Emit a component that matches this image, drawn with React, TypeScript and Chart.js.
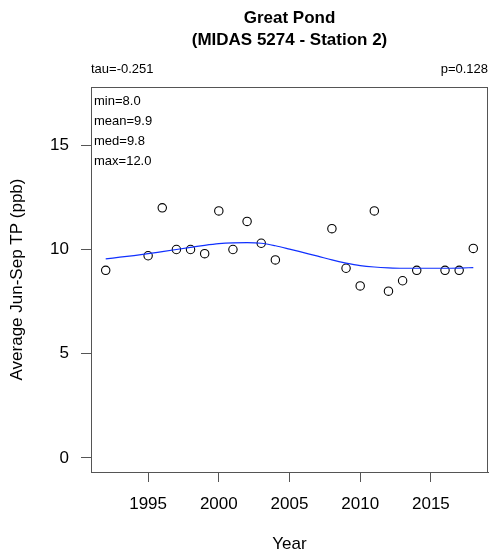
import React, { useEffect, useRef } from "react";
import { Chart, registerables } from "chart.js";

Chart.register(...registerables);

const years = [1992, 1995, 1996, 1997, 1998, 1999, 2000, 2001, 2002, 2003, 2004, 2008, 2009, 2010, 2011, 2012, 2013, 2014, 2016, 2017, 2018];
const tpValues = [9.0, 9.7, 12.0, 10.0, 10.0, 9.8, 11.85, 10.0, 11.35, 10.3, 9.5, 11.0, 9.1, 8.25, 11.85, 8.0, 8.5, 9.0, 9.0, 9.0, 10.05];

const fitYears = [1992, 1993, 1994, 1995, 1996, 1997, 1998, 1999, 2000, 2001, 2002, 2003, 2004, 2005, 2006, 2007, 2008, 2009, 2010, 2011, 2012, 2013, 2014, 2015, 2016, 2017, 2018];
const fitValues = [9.55, 9.63, 9.71, 9.8, 9.9, 10.0, 10.1, 10.2, 10.28, 10.32, 10.33, 10.3, 10.18, 10.02, 9.85, 9.68, 9.5, 9.35, 9.23, 9.16, 9.12, 9.1, 9.1, 9.1, 9.1, 9.11, 9.13];

const xTicks = [1995, 2000, 2005, 2010, 2015];
const yTicks = [0, 5, 10, 15];

const titleLines = ["Great Pond", "(MIDAS 5274 - Station 2)"];
const tauText = "tau=-0.251";
const pText = "p=0.128";
const statLines = ["min=8.0", "mean=9.9", "med=9.8", "max=12.0"];

const FONT = "'Liberation Sans', Arial, Helvetica, sans-serif";

export default function App() {
  const ref = useRef<HTMLCanvasElement | null>(null);

  useEffect(() => {
    if (!ref.current) return;
    Chart.defaults.font.family = FONT;

    const textPlugin = {
      id: "texts",
      afterDraw(chart: any) {
        const { ctx, chartArea } = chart;
        const { left, right, top, bottom } = chartArea;
        ctx.save();
        ctx.strokeStyle = "#555";
        ctx.lineWidth = 1;
        ctx.strokeRect(left + 0.5, top + 0.5, right - left - 1, bottom - top);
        ctx.fillStyle = "#000";
        ctx.textBaseline = "middle";
        ctx.font = `bold 17px ${FONT}`;
        ctx.textAlign = "center";
        const cx = (left + right) / 2;
        ctx.fillText(titleLines[0], cx, 18);
        ctx.fillText(titleLines[1], cx, 40);
        ctx.font = `13px ${FONT}`;
        ctx.textAlign = "left";
        ctx.fillText(tauText, left, 69);
        ctx.textAlign = "right";
        ctx.fillText(pText, right, 69);
        ctx.textAlign = "left";
        statLines.forEach((s, i) => {
          ctx.fillText(s, left + 3, top + 14 + i * 20);
        });
        ctx.restore();
      },
    };

    const chart = new Chart(ref.current, {
      type: "scatter",
      data: {
        datasets: [
          {
            type: "line",
            data: fitYears.map((x, i) => ({ x, y: fitValues[i] })),
            borderColor: "#1030ff",
            borderWidth: 1.2,
            pointRadius: 0,
            cubicInterpolationMode: "monotone",
            fill: false,
          } as any,
          {
            type: "scatter",
            data: years.map((x, i) => ({ x, y: tpValues[i] })),
            pointStyle: "circle",
            pointRadius: 4.2,
            borderColor: "#000",
            backgroundColor: "rgba(0,0,0,0)",
            borderWidth: 1.1,
          },
        ],
      },
      options: {
        animation: false,
        responsive: false,
        maintainAspectRatio: false,
        layout: { autoPadding: false, padding: { top: 87, right: 1, left: 0, bottom: 0 } },
        plugins: { legend: { display: false }, tooltip: { enabled: false } },
        scales: {
          x: {
            type: "linear",
            min: 1990.96,
            max: 2019.04,
            afterBuildTicks: (s: any) => {
              s.ticks = xTicks.map((v) => ({ value: v }));
            },
            afterFit: (s: any) => {
              s.height = 84;
              s.paddingLeft = 0;
              s.paddingRight = 0;
            },
            ticks: {
              color: "#000",
              font: { size: 17 },
              padding: 12,
              callback: (v: any) => String(v),
            },
            grid: { drawOnChartArea: false, drawTicks: true, tickLength: 10, color: "#555" },
            border: { display: true, color: "#555" },
            title: { display: true, text: "Year", color: "#000", font: { size: 17 }, padding: { top: 0, bottom: 1 } },
          },
          y: {
            type: "linear",
            min: -0.68,
            max: 17.8,
            afterBuildTicks: (s: any) => {
              s.ticks = yTicks.map((v) => ({ value: v }));
            },
            afterFit: (s: any) => {
              s.width = 91;
              s.paddingTop = 0;
              s.paddingBottom = 0;
            },
            ticks: {
              color: "#000",
              font: { size: 17 },
              padding: 12,
              callback: (v: any) => String(v),
            },
            grid: { drawOnChartArea: false, drawTicks: true, tickLength: 10, color: "#555" },
            border: { display: true, color: "#555" },
            title: { display: true, text: "Average Jun-Sep TP (ppb)", color: "#000", font: { size: 17 }, padding: { top: 7, bottom: 0 } },
          },
        },
      },
      plugins: [textPlugin],
    });
    return () => chart.destroy();
  }, []);

  return (
    <div style={{ position: "fixed", left: 0, top: 0, width: 489, height: 556, background: "#fff" }}>
      <canvas ref={ref} width={489} height={556} style={{ width: 489, height: 556, display: "block" }} />
    </div>
  );
}
